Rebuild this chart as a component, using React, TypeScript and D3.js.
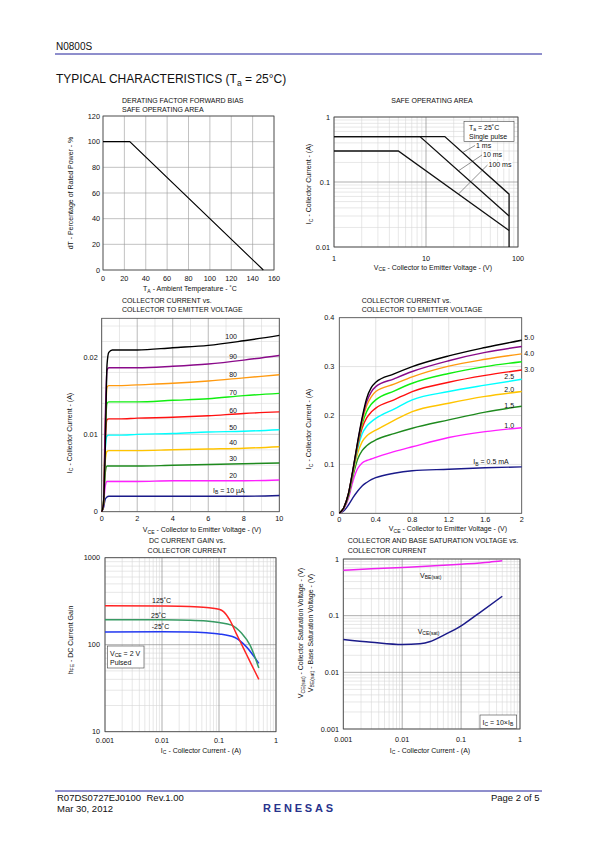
import React from "react";
import * as d3 from "d3";

const FONT = "'Liberation Sans', Arial, Helvetica, sans-serif";

// ---------- Panel 1: derating ----------
const deratingTemp = [0, 25, 150];
const deratingPower = [100, 100, 0];
const deratingXTicks = [0, 20, 40, 60, 80, 100, 120, 140, 160];
const deratingYTicks = [0, 20, 40, 60, 80, 100, 120];

// ---------- Panel 2: safe operating area ----------
const soa1msV = [1, 16, 80, 80];
const soa1msI = [0.5, 0.5, 0.065, 0.01];
const soa10msV = [1, 8.6, 80];
const soa10msI = [0.5, 0.5, 0.03];
const soa100msV = [1, 5, 80];
const soa100msI = [0.3, 0.3, 0.018];
const soaXTicks = [1, 10, 100];
const soaYTicks = [0.01, 0.1, 1];
const soaYTickLabels = ["0.01", "0.1", "1"];

// ---------- Panel 3: IC vs VCE (µA base currents) ----------
const lowVce = [0, 0.1, 0.2, 0.3, 0.4, 0.6, 1, 2, 4, 6, 8, 10];
const lowIc100 = [0, 0.001, 0.008, 0.019, 0.0206, 0.0209, 0.0209, 0.0209, 0.0212, 0.0215, 0.0221, 0.0228];
const lowIc90 = [0, 0.001, 0.012, 0.0183, 0.0186, 0.0186, 0.0186, 0.0186, 0.0188, 0.0191, 0.0196, 0.0202];
const lowIc80 = [0, 0.001, 0.011, 0.0161, 0.0163, 0.0163, 0.0163, 0.0164, 0.0166, 0.0169, 0.0173, 0.0177];
const lowIc70 = [0, 0.001, 0.01, 0.014, 0.0142, 0.0142, 0.0142, 0.0142, 0.0144, 0.0146, 0.015, 0.0153];
const lowIc60 = [0, 0.001, 0.009, 0.0119, 0.012, 0.012, 0.012, 0.0121, 0.0122, 0.0124, 0.0127, 0.0129];
const lowIc50 = [0, 0.001, 0.008, 0.0098, 0.0099, 0.0099, 0.0099, 0.01, 0.0101, 0.0103, 0.0104, 0.0106];
const lowIc40 = [0, 0.001, 0.0065, 0.0078, 0.0079, 0.0079, 0.0079, 0.0079, 0.008, 0.0081, 0.0082, 0.0084];
const lowIc30 = [0, 0.001, 0.005, 0.0059, 0.0059, 0.0059, 0.0059, 0.0059, 0.006, 0.0061, 0.0062, 0.0063];
const lowIc20 = [0, 0.0008, 0.0033, 0.0039, 0.0039, 0.0039, 0.0039, 0.0039, 0.004, 0.004, 0.004, 0.0041];
const lowIc10 = [0, 0.0005, 0.0016, 0.0019, 0.002, 0.002, 0.002, 0.002, 0.002, 0.002, 0.002, 0.0021];
const lowLabels = ["100", "90", "80", "70", "60", "50", "40", "30", "20"];
const lowXTicks = [0, 2, 4, 6, 8, 10];
const lowYTicks = [0, 0.01, 0.02];

// ---------- Panel 4: IC vs VCE (mA base currents) ----------
const highVce = [0, 0.05, 0.1, 0.15, 0.2, 0.25, 0.3, 0.35, 0.4, 0.6, 0.8, 1.2, 1.6, 2.0];
const highIc50 = [0, 0.012, 0.04, 0.09, 0.145, 0.195, 0.235, 0.257, 0.268, 0.285, 0.3, 0.322, 0.339, 0.354];
const highIc45 = [0, 0.012, 0.04, 0.089, 0.143, 0.192, 0.228, 0.248, 0.259, 0.275, 0.29, 0.312, 0.329, 0.341];
const highIc40 = [0, 0.012, 0.04, 0.088, 0.141, 0.188, 0.22, 0.238, 0.249, 0.264, 0.279, 0.301, 0.315, 0.326];
const highIc35 = [0, 0.012, 0.039, 0.087, 0.139, 0.182, 0.208, 0.223, 0.232, 0.25, 0.266, 0.286, 0.3, 0.31];
const highIc30 = [0, 0.011, 0.038, 0.086, 0.136, 0.174, 0.195, 0.207, 0.215, 0.232, 0.249, 0.268, 0.282, 0.293];
const highIc25 = [0, 0.011, 0.037, 0.084, 0.131, 0.162, 0.178, 0.187, 0.194, 0.213, 0.232, 0.249, 0.262, 0.274];
const highIc20 = [0, 0.011, 0.036, 0.081, 0.122, 0.146, 0.158, 0.165, 0.17, 0.19, 0.208, 0.225, 0.239, 0.249];
const highIc15 = [0, 0.01, 0.034, 0.076, 0.11, 0.128, 0.138, 0.145, 0.15, 0.163, 0.174, 0.191, 0.207, 0.219];
const highIc10 = [0, 0.009, 0.03, 0.066, 0.091, 0.103, 0.108, 0.111, 0.1145, 0.126, 0.136, 0.155, 0.167, 0.175];
const highIc05 = [0, 0.005, 0.017, 0.032, 0.045, 0.056, 0.063, 0.069, 0.073, 0.082, 0.087, 0.09, 0.093, 0.095];
const highXTicks = [0, 0.4, 0.8, 1.2, 1.6, 2];
const highXTickLabels = ["0", "0.4", "0.8", "1.2", "1.6", "2"];
const highYTicks = [0, 0.1, 0.2, 0.3, 0.4];

// ---------- Panel 5: DC current gain ----------
const hfe125Ic = [0.001, 0.01, 0.03, 0.06, 0.1, 0.12, 0.156, 0.2, 0.267, 0.35, 0.5];
const hfe125 = [280, 278, 275, 268, 255, 240, 190, 135, 92, 64, 40];
const hfe25Ic = [0.001, 0.01, 0.03, 0.06, 0.1, 0.166, 0.25, 0.35, 0.5];
const hfe25 = [194, 193, 191, 187, 180, 168, 135, 99, 54];
const hfeM25Ic = [0.001, 0.01, 0.03, 0.06, 0.1, 0.19, 0.3, 0.5];
const hfeM25 = [140, 141, 140, 137, 133, 121, 95, 61];
const gainXTicks = [0.001, 0.01, 0.1, 1];
const gainXTickLabels = ["0.001", "0.01", "0.1", "1"];
const gainYTicks = [10, 100, 1000];

// ---------- Panel 6: saturation voltages ----------
const vbeIc = [0.001, 0.003, 0.01, 0.03, 0.1, 0.3, 0.5];
const vbeSat = [0.63, 0.67, 0.71, 0.75, 0.81, 0.88, 0.93];
const vceIc = [0.001, 0.003, 0.01, 0.02, 0.03, 0.05, 0.1, 0.2, 0.5];
const vceSat = [0.038, 0.034, 0.031, 0.032, 0.035, 0.045, 0.066, 0.11, 0.22];
const satYTicks = [0.001, 0.01, 0.1, 1];
const satYTickLabels = ["0.001", "0.01", "0.1", "1"];

type P = [number, number];
const zip = (a: number[], b: number[]): P[] => a.map((v, i) => [v, b[i]]);

function Rich({ parts, shift = 1.6 }: { parts: [string, boolean][]; shift?: number }) {
  let inSub = false;
  return (
    <>
      {parts.map(([t, s], i) => {
        let dy: number | undefined;
        if (s && !inSub) dy = shift;
        else if (!s && inSub) dy = -shift;
        inSub = s;
        return (
          <tspan key={i} dy={dy} fontSize={s ? "72%" : undefined}>
            {t}
          </tspan>
        );
      })}
    </>
  );
}

const isDecade = (v: number) => Math.abs(Math.log10(v) - Math.round(Math.log10(v))) < 1e-6;
const TF = 7.3; // tick font
const LF = 7; // label font

function LogGrid({ x, y, L, R, T, B }: any) {
  const xt: number[] = x.ticks();
  const yt: number[] = y.ticks();
  return (
    <g>
      {xt.filter((v) => !isDecade(v)).map((v, i) => (
        <line key={"xm" + i} x1={x(v)} x2={x(v)} y1={T} y2={B} stroke="#d6d6d6" strokeWidth={0.6} />
      ))}
      {yt.filter((v) => !isDecade(v)).map((v, i) => (
        <line key={"ym" + i} x1={L} x2={R} y1={y(v)} y2={y(v)} stroke="#d6d6d6" strokeWidth={0.6} />
      ))}
      {xt.filter(isDecade).map((v, i) => (
        <line key={"xM" + i} x1={x(v)} x2={x(v)} y1={T} y2={B} stroke="#8c8c8c" strokeWidth={0.7} />
      ))}
      {yt.filter(isDecade).map((v, i) => (
        <line key={"yM" + i} x1={L} x2={R} y1={y(v)} y2={y(v)} stroke="#8c8c8c" strokeWidth={0.7} />
      ))}
    </g>
  );
}

function Frame({ L, R, T, B }: any) {
  return <rect x={L} y={T} width={R - L} height={B - T} fill="none" stroke="#4a4a4a" strokeWidth={0.8} />;
}

function YLabel({ x, y, children, size = LF }: any) {
  return (
    <text transform={`translate(${x},${y}) rotate(-90)`} textAnchor="middle" fontSize={size}>
      {children}
    </text>
  );
}

const IC_LABEL: [string, boolean][] = [["I", false], ["C", true], [" - Collector Current - (A)", false]];
const VCE_LABEL: [string, boolean][] = [["V", false], ["CE", true], [" - Collector to Emitter Voltage - (V)", false]];

function Derating() {
  const L = 103, R = 274, T = 116, B = 270;
  const x = d3.scaleLinear().domain([0, 160]).range([L, R]);
  const y = d3.scaleLinear().domain([0, 120]).range([B, T]);
  const line = d3.line<P>().x((d) => x(d[0])).y((d) => y(d[1]));
  return (
    <g>
      <text x={122} y={102.5} fontSize={LF}>DERATING FACTOR FORWARD BIAS</text>
      <text x={122} y={111.5} fontSize={LF}>SAFE OPERATING AREA</text>
      {deratingXTicks.map((v) => (
        <line key={"gx" + v} x1={x(v)} x2={x(v)} y1={T} y2={B} stroke="#9a9a9a" strokeWidth={0.6} />
      ))}
      {deratingYTicks.map((v) => (
        <line key={"gy" + v} x1={L} x2={R} y1={y(v)} y2={y(v)} stroke="#9a9a9a" strokeWidth={0.6} />
      ))}
      <Frame L={L} R={R} T={T} B={B} />
      <path d={line(zip(deratingTemp, deratingPower)) || ""} fill="none" stroke="#000" strokeWidth={1.1} />
      {deratingXTicks.map((v) => (
        <text key={"tx" + v} x={x(v)} y={281} fontSize={TF} textAnchor="middle">{v}</text>
      ))}
      {deratingYTicks.map((v) => (
        <text key={"ty" + v} x={100} y={y(v) + 2.6} fontSize={TF} textAnchor="end">{v}</text>
      ))}
      <YLabel x={72.5} y={193}>dT - Percentage of Rated Power - %</YLabel>
      <text x={190} y={291} fontSize={LF} textAnchor="middle">
        <Rich parts={[["T", false], ["A", true], [" - Ambient Temperature - ˚C", false]]} />
      </text>
    </g>
  );
}

function logInterp(vs: number[], is: number[], v: number) {
  for (let k = 0; k < vs.length - 1; k++) {
    if (v >= vs[k] && v <= vs[k + 1] && vs[k + 1] > vs[k]) {
      const t = (Math.log10(v) - Math.log10(vs[k])) / (Math.log10(vs[k + 1]) - Math.log10(vs[k]));
      return Math.pow(10, Math.log10(is[k]) + t * (Math.log10(is[k + 1]) - Math.log10(is[k])));
    }
  }
  return is[0];
}

function SOA() {
  const L = 334, R = 518, T = 117, B = 247;
  const x = d3.scaleLog().domain([1, 100]).range([L, R]);
  const y = d3.scaleLog().domain([0.01, 1]).range([B, T]);
  const line = d3.line<P>().x((d) => x(d[0])).y((d) => y(d[1]));
  const series = [
    { v: soa1msV, i: soa1msI, label: "1 ms", at: 25, tx: 476, ty: 148, lx: 475, ly: 145.5 },
    { v: soa10msV, i: soa10msI, label: "10 ms", at: 22.5, tx: 483, ty: 157.3, lx: 482, ly: 155 },
    { v: soa100msV, i: soa100msI, label: "100 ms", at: 22.5, tx: 488.5, ty: 167, lx: 487.5, ly: 165 },
  ];
  return (
    <g>
      <text x={432} y={102.5} fontSize={LF} textAnchor="middle">SAFE OPERATING AREA</text>
      <LogGrid x={x} y={y} L={L} R={R} T={T} B={B} />
      <Frame L={L} R={R} T={T} B={B} />
      {series.map((s) => (
        <path key={s.label} d={line(zip(s.v, s.i)) || ""} fill="none" stroke="#111" strokeWidth={1.3} />
      ))}
      {series.map((s) => (
        <g key={"l" + s.label}>
          <line x1={s.lx} y1={s.ly} x2={x(s.at)} y2={y(logInterp(s.v, s.i, s.at))} stroke="#222" strokeWidth={0.5} />
          <rect x={s.tx - 0.5} y={s.ty - 6} width={s.label.length * 3.9 + 1} height={7.5} fill="#fff" />
          <text x={s.tx} y={s.ty} fontSize={LF}>{s.label}</text>
        </g>
      ))}
      <rect x={464} y={121.3} width={50} height={20} fill="#fff" stroke="#444" strokeWidth={0.6} />
      <text x={469} y={129.6} fontSize={LF}>
        <Rich parts={[["T", false], ["a", true], [" = 25˚C", false]]} />
      </text>
      <text x={469} y={138.6} fontSize={LF}>Single pulse</text>
      {soaXTicks.map((v) => (
        <text key={"tx" + v} x={x(v)} y={261} fontSize={TF} textAnchor="middle">{v}</text>
      ))}
      {soaYTicks.map((v, k) => (
        <text key={"ty" + v} x={330} y={y(v) + 2.6} fontSize={TF} textAnchor="end">{soaYTickLabels[k]}</text>
      ))}
      <YLabel x={311} y={184}><Rich parts={IC_LABEL} /></YLabel>
      <text x={433} y={269.5} fontSize={LF} textAnchor="middle"><Rich parts={VCE_LABEL} /></text>
    </g>
  );
}

function LowIb() {
  const L = 101.7, R = 279.3, T = 318.3, B = 511.7;
  const x = d3.scaleLinear().domain([0, 10]).range([L, R]);
  const y = d3.scaleLinear().domain([0, 0.025]).range([B, T]);
  const line = d3.line<P>().x((d) => x(d[0])).y((d) => y(d[1])).curve(d3.curveMonotoneX);
  const series = [
    { d: lowIc10, c: "#1a1a8a" },
    { d: lowIc20, c: "#ff20ff" },
    { d: lowIc30, c: "#1e8a1e" },
    { d: lowIc40, c: "#ffc400" },
    { d: lowIc50, c: "#00ffff" },
    { d: lowIc60, c: "#ff1010" },
    { d: lowIc70, c: "#10ee10" },
    { d: lowIc80, c: "#ff9a10" },
    { d: lowIc90, c: "#8a0a8a" },
    { d: lowIc100, c: "#000" },
  ];
  const labelY = [339, 358.5, 377, 395, 412.5, 429.5, 445, 460.5, 477.5];
  const vx = d3.range(0, 11, 1);
  const hy = d3.range(0, 0.0251, 0.002);
  return (
    <g>
      <text x={122} y={302.5} fontSize={LF}>COLLECTOR CURRENT vs.</text>
      <text x={122} y={312} fontSize={LF}>COLLECTOR TO EMITTER VOLTAGE</text>
      {hy.map((v, k) => (
        <line key={"gy" + k} x1={L} x2={R} y1={y(v)} y2={y(v)} stroke={k % 5 === 0 ? "#b0b0b0" : "#dcdcdc"} strokeWidth={0.6} />
      ))}
      {vx.map((v) => (
        <line key={"gx" + v} x1={x(v)} x2={x(v)} y1={T} y2={B} stroke={v % 2 === 0 ? "#aaaaaa" : "#d6d6d6"} strokeWidth={v % 2 === 0 ? 0.8 : 0.6} />
      ))}
      <Frame L={L} R={R} T={T} B={B} />
      {series.map((s, k) => (
        <path key={k} d={line(zip(lowVce, s.d)) || ""} fill="none" stroke={s.c} strokeWidth={1.4} />
      ))}
      {lowLabels.map((t, k) => (
        <text key={t} x={237} y={labelY[k]} fontSize={LF} textAnchor="end">{t}</text>
      ))}
      <text x={213} y={492.5} fontSize={LF}>
        <Rich parts={[["I", false], ["B", true], [" = 10 µA", false]]} />
      </text>
      {lowXTicks.map((v) => (
        <text key={"tx" + v} x={x(v)} y={521} fontSize={TF} textAnchor="middle">{v}</text>
      ))}
      {lowYTicks.map((v) => (
        <text key={"ty" + v} x={97.7} y={y(v) + 2.6} fontSize={TF} textAnchor="end">{v}</text>
      ))}
      <YLabel x={71.5} y={433}><Rich parts={IC_LABEL} /></YLabel>
      <text x={202} y={532} fontSize={LF} textAnchor="middle"><Rich parts={VCE_LABEL} /></text>
    </g>
  );
}

function HighIb() {
  const L = 339.3, R = 521.7, T = 317.7, B = 513.3;
  const x = d3.scaleLinear().domain([0, 2]).range([L, R]);
  const y = d3.scaleLinear().domain([0, 0.4]).range([B, T]);
  const line = d3.line<P>().x((d) => x(d[0])).y((d) => y(d[1])).curve(d3.curveMonotoneX);
  const series = [
    { d: highIc05, c: "#1a1a8a" },
    { d: highIc10, c: "#ff20ff" },
    { d: highIc15, c: "#1e8a1e" },
    { d: highIc20, c: "#ffc400" },
    { d: highIc25, c: "#00ffff" },
    { d: highIc30, c: "#ff1010" },
    { d: highIc35, c: "#10ee10" },
    { d: highIc40, c: "#ff9a10" },
    { d: highIc45, c: "#8a0a8a" },
    { d: highIc50, c: "#000" },
  ];
  const labels = [
    { t: "5.0", x: 524.3, y: 340 },
    { t: "4.0", x: 524.3, y: 356 },
    { t: "3.0", x: 524.3, y: 371.5 },
    { t: "2.5", x: 504.3, y: 378.5 },
    { t: "2.0", x: 504.3, y: 392 },
    { t: "1.5", x: 504.3, y: 407.5 },
    { t: "1.0", x: 504.3, y: 428 },
  ];
  return (
    <g>
      <text x={361.7} y={302.5} fontSize={LF}>COLLECTOR CURRENT vs.</text>
      <text x={361.7} y={312} fontSize={LF}>COLLECTOR TO EMITTER VOLTAGE</text>
      {highXTicks.map((v) => (
        <line key={"gx" + v} x1={x(v)} x2={x(v)} y1={T} y2={B} stroke="#cfcfcf" strokeWidth={0.6} />
      ))}
      {highYTicks.map((v) => (
        <line key={"gy" + v} x1={L} x2={R} y1={y(v)} y2={y(v)} stroke="#cfcfcf" strokeWidth={0.6} />
      ))}
      <Frame L={L} R={R} T={T} B={B} />
      {series.map((s, k) => (
        <path key={k} d={line(zip(highVce, s.d)) || ""} fill="none" stroke={s.c} strokeWidth={1.4} />
      ))}
      {labels.map((l) => (
        <text key={l.t} x={l.x} y={l.y} fontSize={LF}>{l.t}</text>
      ))}
      <text x={473.3} y={464} fontSize={LF}>
        <Rich parts={[["I", false], ["B", true], [" = 0.5 mA", false]]} />
      </text>
      {highXTicks.map((v, k) => (
        <text key={"tx" + v} x={x(v)} y={521.5} fontSize={TF} textAnchor="middle">{highXTickLabels[k]}</text>
      ))}
      {highYTicks.map((v) => (
        <text key={"ty" + v} x={334.3} y={y(v) + 2.6} fontSize={TF} textAnchor="end">{v}</text>
      ))}
      <YLabel x={311} y={429}><Rich parts={IC_LABEL} /></YLabel>
      <text x={448} y={531} fontSize={LF} textAnchor="middle"><Rich parts={VCE_LABEL} /></text>
    </g>
  );
}

function Gain() {
  const L = 105, R = 276, T = 557.7, B = 731.7;
  const x = d3.scaleLog().domain([0.001, 1]).range([L, R]);
  const y = d3.scaleLog().domain([10, 1000]).range([B, T]);
  const line = d3.line<P>().x((d) => x(d[0])).y((d) => y(d[1])).curve(d3.curveMonotoneX);
  const series = [
    { d: zip(hfeM25Ic, hfeM25), c: "#2238f0" },
    { d: zip(hfe25Ic, hfe25), c: "#379a63" },
    { d: zip(hfe125Ic, hfe125), c: "#ff2424" },
  ];
  return (
    <g>
      <text x={187} y={543} fontSize={LF} textAnchor="middle">DC CURRENT GAIN vs.</text>
      <text x={187} y={552.5} fontSize={LF} textAnchor="middle">COLLECTOR CURRENT</text>
      <LogGrid x={x} y={y} L={L} R={R} T={T} B={B} />
      <Frame L={L} R={R} T={T} B={B} />
      {series.map((s, k) => (
        <path key={k} d={line(s.d) || ""} fill="none" stroke={s.c} strokeWidth={1.5} />
      ))}
      <text x={152} y={603} fontSize={LF}>125˚C</text>
      <text x={151} y={617.5} fontSize={LF}>25˚C</text>
      <text x={151.7} y={628.5} fontSize={LF}>-25˚C</text>
      <rect x={107.3} y={646} width={36.7} height={22} fill="#fff" stroke="#444" strokeWidth={0.6} />
      <text x={110} y={655.5} fontSize={LF}>
        <Rich parts={[["V", false], ["CE", true], [" = 2 V", false]]} />
      </text>
      <text x={110} y={665} fontSize={LF}>Pulsed</text>
      {gainXTicks.map((v, k) => (
        <text key={"tx" + v} x={x(v)} y={743} fontSize={TF} textAnchor="middle">{gainXTickLabels[k]}</text>
      ))}
      {gainYTicks.map((v) => (
        <text key={"ty" + v} x={100} y={y(v) + (v === 10 ? 1.8 : 2.6)} fontSize={TF} textAnchor="end">{v}</text>
      ))}
      <YLabel x={72.5} y={640}>
        <Rich parts={[["h", false], ["FE", true], [" - DC Current Gain", false]]} />
      </YLabel>
      <text x={201} y={752.5} fontSize={LF} textAnchor="middle"><Rich parts={IC_LABEL} /></text>
    </g>
  );
}

function Saturation() {
  const L = 343.3, R = 520, T = 559, B = 729;
  const x = d3.scaleLog().domain([0.001, 1]).range([L, R]);
  const y = d3.scaleLog().domain([0.001, 1]).range([B, T]);
  const line = d3.line<P>().x((d) => x(d[0])).y((d) => y(d[1])).curve(d3.curveMonotoneX);
  return (
    <g>
      <text x={347.7} y={543} fontSize={LF}>COLLECTOR AND BASE SATURATION VOLTAGE vs.</text>
      <text x={347.7} y={552.5} fontSize={LF}>COLLECTOR CURRENT</text>
      <LogGrid x={x} y={y} L={L} R={R} T={T} B={B} />
      <Frame L={L} R={R} T={T} B={B} />
      <path d={line(zip(vbeIc, vbeSat)) || ""} fill="none" stroke="#ee22ee" strokeWidth={1.5} />
      <path d={line(zip(vceIc, vceSat)) || ""} fill="none" stroke="#1b1b8a" strokeWidth={1.5} />
      <text x={420} y={577.5} fontSize={LF}>
        <Rich parts={[["V", false], ["BE(sat)", true]]} />
      </text>
      <text x={417.7} y={633.5} fontSize={LF}>
        <Rich parts={[["V", false], ["CE(sat)", true]]} />
      </text>
      <rect x={480} y={715} width={36.7} height={13.3} fill="#fff" stroke="#444" strokeWidth={0.6} />
      <text x={482.5} y={724.5} fontSize={LF}>
        <Rich parts={[["I", false], ["C", true], [" = 10×I", false], ["B", true]]} />
      </text>
      {gainXTicks.map((v, k) => (
        <text key={"tx" + v} x={x(v)} y={742} fontSize={TF} textAnchor="middle">{gainXTickLabels[k]}</text>
      ))}
      {satYTicks.map((v, k) => (
        <text key={"ty" + v} x={339} y={y(v) + 2.6} fontSize={TF} textAnchor="end">{satYTickLabels[k]}</text>
      ))}
      <YLabel x={303.2} y={633}>
        <Rich parts={[["V", false], ["CE(sat)", true], [" - Collector Saturation Voltage - (V)", false]]} />
      </YLabel>
      <YLabel x={312.5} y={633}>
        <Rich parts={[["V", false], ["BE(sat)", true], [" - Base Saturation Voltage - (V)", false]]} />
      </YLabel>
      <text x={430} y={752.5} fontSize={LF} textAnchor="middle"><Rich parts={IC_LABEL} /></text>
    </g>
  );
}

export default function App() {
  return (
    <svg
      width={595}
      height={842}
      viewBox="0 0 595 842"
      style={{ position: "absolute", left: 0, top: 0, background: "#fff" }}
      fontFamily={FONT}
      fill="#111"
    >
      <rect x={0} y={0} width={595} height={842} fill="#fff" />
      <text x={56} y={49.7} fontSize={10}>N0800S</text>
      <line x1={55} x2={542} y1={54} y2={54} stroke="#1f1f9a" strokeWidth={1} />
      <text x={56} y={83} fontSize={12}>
        <Rich parts={[["TYPICAL CHARACTERISTICS (T", false], ["a", true], [" = 25°C)", false]]} shift={2.5} />
      </text>
      <Derating />
      <SOA />
      <LowIb />
      <HighIb />
      <Gain />
      <Saturation />
      <line x1={55} x2={542} y1={791} y2={791} stroke="#1f1f9a" strokeWidth={1} />
      <text x={57} y={801} fontSize={9.5}>R07DS0727EJ0100</text>
      <text x={146.5} y={801} fontSize={9.5}>Rev.1.00</text>
      <text x={57} y={812} fontSize={9.5}>Mar 30, 2012</text>
      <text x={539.5} y={801} fontSize={9.5} textAnchor="end">Page 2 of 5</text>
      <text x={298} y={812} fontSize={11} fontWeight="bold" textAnchor="middle" fill="#27338c" textLength={70} lengthAdjust="spacing">
        RENESAS
      </text>
    </svg>
  );
}
